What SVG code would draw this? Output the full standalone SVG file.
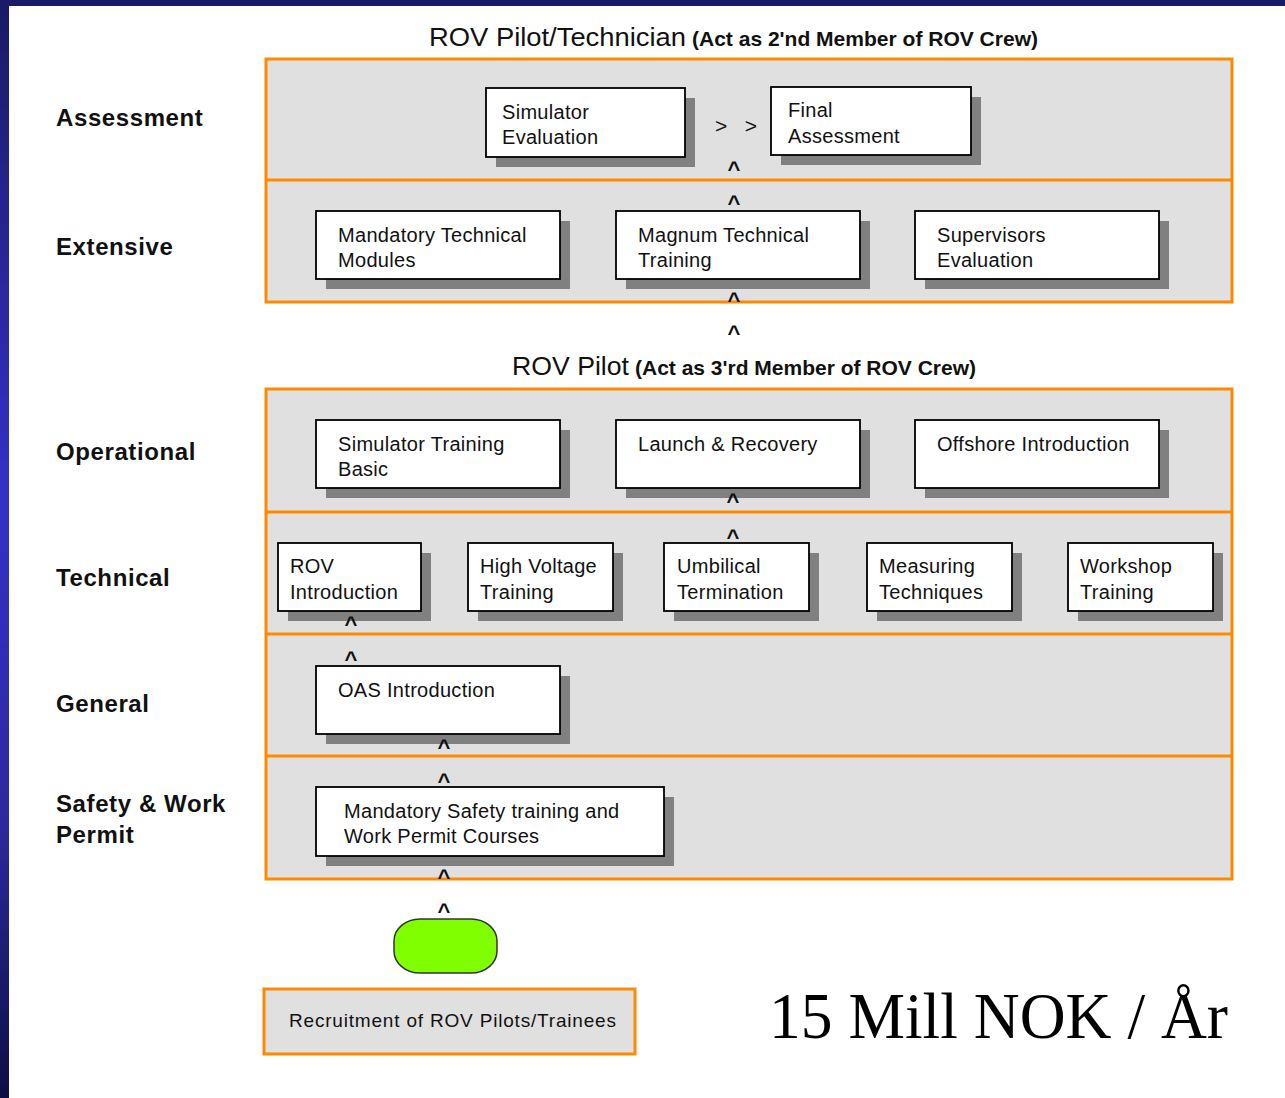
<svg xmlns="http://www.w3.org/2000/svg" width="1285" height="1098" viewBox="0 0 1285 1098">
<defs>
<linearGradient id="side" x1="0" y1="0" x2="0" y2="1">
<stop offset="0" stop-color="#1a1a66"/>
<stop offset="0.45" stop-color="#3232c8"/>
<stop offset="0.75" stop-color="#2a2aa0"/>
<stop offset="1" stop-color="#0e0e44"/>
</linearGradient>
<style>
.band{fill:#e0e0e0;stroke:#ff8a00;stroke-width:3}
.div{stroke:#ff8a00;stroke-width:3}
.box{fill:#ffffff;stroke:#000000;stroke-width:1.8}
.sh{fill:#808080}
.t{font-family:"Liberation Sans",Arial,sans-serif;font-size:20px;letter-spacing:0.3px;fill:#111}
.lab{font-family:"Liberation Sans",Arial,sans-serif;font-size:24px;font-weight:bold;letter-spacing:0.6px;fill:#111}
.ttl{font-family:"Liberation Sans",Arial,sans-serif;font-size:25px;fill:#111}
.sub{font-family:"Liberation Sans",Arial,sans-serif;font-size:21px;font-weight:bold;fill:#111}
.c{font-family:"Liberation Sans",Arial,sans-serif;font-size:22px;font-weight:bold;fill:#111;text-anchor:middle}
</style>
</defs>
<rect x="0" y="0" width="1285" height="1098" fill="#ffffff"/>
<rect x="0" y="0" width="9" height="1098" fill="url(#side)"/>
<rect x="0" y="0" width="1285" height="6" fill="#1a1a66"/>

<!-- titles -->
<text x="429" y="46" class="ttl" textLength="257" lengthAdjust="spacingAndGlyphs">ROV Pilot/Technician</text>
<text x="692" y="46" class="sub" textLength="346" lengthAdjust="spacingAndGlyphs">(Act as 2'nd Member of ROV Crew)</text>
<text x="512" y="375" class="ttl" textLength="117" lengthAdjust="spacingAndGlyphs">ROV Pilot</text>
<text x="635" y="375" class="sub" textLength="341" lengthAdjust="spacingAndGlyphs">(Act as 3'rd Member of ROV Crew)</text>

<!-- row labels -->
<text x="56" y="126" class="lab">Assessment</text>
<text x="56" y="255" class="lab">Extensive</text>
<text x="56" y="460" class="lab">Operational</text>
<text x="56" y="586" class="lab">Technical</text>
<text x="56" y="712" class="lab">General</text>
<text x="56" y="812" class="lab">Safety &amp; Work</text>
<text x="56" y="843" class="lab">Permit</text>

<!-- bands -->
<g id="panel-technician">
<rect x="266" y="59" width="966" height="243" class="band"/>
<line x1="266" y1="180" x2="1232" y2="180" class="div"/>
</g>
<g id="panel-pilot">
<rect x="266" y="389" width="966" height="490" class="band"/>
<line x1="266" y1="512" x2="1232" y2="512" class="div"/>
<line x1="266" y1="634" x2="1232" y2="634" class="div"/>
<line x1="266" y1="756" x2="1232" y2="756" class="div"/>
</g>

<!-- nodes -->
<g id="simulator-evaluation">
<rect x="496" y="98" width="199" height="69" class="sh"/>
<rect x="486" y="88" width="199" height="69" class="box"/>
<text x="502" y="119" class="t">Simulator</text>
<text x="502" y="144" class="t">Evaluation</text>
</g>
<g id="final-assessment">
<rect x="781" y="97" width="200" height="68" class="sh"/>
<rect x="771" y="87" width="200" height="68" class="box"/>
<text x="788" y="117" class="t">Final</text>
<text x="788" y="143" class="t">Assessment</text>
</g>
<g id="mandatory-technical-modules">
<rect x="326" y="221" width="244" height="68" class="sh"/>
<rect x="316" y="211" width="244" height="68" class="box"/>
<text x="338" y="242" class="t">Mandatory Technical</text>
<text x="338" y="267" class="t">Modules</text>
</g>
<g id="magnum-technical-training">
<rect x="626" y="221" width="244" height="68" class="sh"/>
<rect x="616" y="211" width="244" height="68" class="box"/>
<text x="638" y="242" class="t">Magnum Technical</text>
<text x="638" y="267" class="t">Training</text>
</g>
<g id="supervisors-evaluation">
<rect x="925" y="221" width="244" height="68" class="sh"/>
<rect x="915" y="211" width="244" height="68" class="box"/>
<text x="937" y="242" class="t">Supervisors</text>
<text x="937" y="267" class="t">Evaluation</text>
</g>
<g id="simulator-training-basic">
<rect x="326" y="430" width="244" height="68" class="sh"/>
<rect x="316" y="420" width="244" height="68" class="box"/>
<text x="338" y="451" class="t">Simulator Training</text>
<text x="338" y="476" class="t">Basic</text>
</g>
<g id="launch-recovery">
<rect x="626" y="430" width="244" height="68" class="sh"/>
<rect x="616" y="420" width="244" height="68" class="box"/>
<text x="638" y="451" class="t">Launch &amp; Recovery</text>
</g>
<g id="offshore-introduction">
<rect x="925" y="430" width="244" height="68" class="sh"/>
<rect x="915" y="420" width="244" height="68" class="box"/>
<text x="937" y="451" class="t">Offshore Introduction</text>
</g>
<g id="rov-introduction">
<rect x="288" y="553" width="143" height="68" class="sh"/>
<rect x="278" y="543" width="143" height="68" class="box"/>
<text x="290" y="573" class="t">ROV</text>
<text x="290" y="599" class="t">Introduction</text>
</g>
<g id="high-voltage-training">
<rect x="478" y="553" width="145" height="68" class="sh"/>
<rect x="468" y="543" width="145" height="68" class="box"/>
<text x="480" y="573" class="t">High Voltage</text>
<text x="480" y="599" class="t">Training</text>
</g>
<g id="umbilical-termination">
<rect x="674" y="553" width="145" height="68" class="sh"/>
<rect x="664" y="543" width="145" height="68" class="box"/>
<text x="677" y="573" class="t">Umbilical</text>
<text x="677" y="599" class="t">Termination</text>
</g>
<g id="measuring-techniques">
<rect x="877" y="553" width="145" height="68" class="sh"/>
<rect x="867" y="543" width="145" height="68" class="box"/>
<text x="879" y="573" class="t">Measuring</text>
<text x="879" y="599" class="t">Techniques</text>
</g>
<g id="workshop-training">
<rect x="1078" y="553" width="145" height="68" class="sh"/>
<rect x="1068" y="543" width="145" height="68" class="box"/>
<text x="1080" y="573" class="t">Workshop</text>
<text x="1080" y="599" class="t">Training</text>
</g>
<g id="oas-introduction">
<rect x="326" y="676" width="244" height="68" class="sh"/>
<rect x="316" y="666" width="244" height="68" class="box"/>
<text x="338" y="697" class="t">OAS Introduction</text>
</g>
<g id="mandatory-safety">
<rect x="326" y="797" width="348" height="69" class="sh"/>
<rect x="316" y="787" width="348" height="69" class="box"/>
<text x="344" y="818" class="t">Mandatory Safety training and</text>
<text x="344" y="843" class="t">Work Permit Courses</text>
</g>
<g id="start">
<rect x="394" y="919" width="103" height="54" rx="26" ry="22" fill="#80ff00" stroke="#333333" stroke-width="1.5"/>
</g>
<g id="recruitment">
<rect x="264" y="989" width="371" height="65" fill="#e0e0e0" stroke="#ff8a00" stroke-width="3"/>
<text x="289" y="1027" class="t" style="font-size:19px;letter-spacing:0" textLength="327" lengthAdjust="spacing">Recruitment of ROV Pilots/Trainees</text>
</g>

<!-- connectors -->
<g id="connectors">
<text x="715" y="133" class="t" style="font-size:21px;letter-spacing:0" textLength="42" lengthAdjust="spacing">&gt; &gt;</text>
<text x="734" y="177" class="c">^</text>
<text x="734" y="211" class="c">^</text>
<text x="734" y="308" class="c">^</text>
<text x="734" y="341" class="c">^</text>
<text x="733" y="509" class="c">^</text>
<text x="733" y="545" class="c">^</text>
<text x="351" y="632" class="c">^</text>
<text x="351" y="667" class="c">^</text>
<text x="444" y="755" class="c">^</text>
<text x="444" y="789" class="c">^</text>
<text x="444" y="885" class="c">^</text>
<text x="444" y="919" class="c">^</text>
</g>

<text x="769" y="1038" font-family="'Liberation Serif','Times New Roman',serif" font-size="66" fill="#000" textLength="459" lengthAdjust="spacingAndGlyphs">15 Mill NOK / År</text>
</svg>
